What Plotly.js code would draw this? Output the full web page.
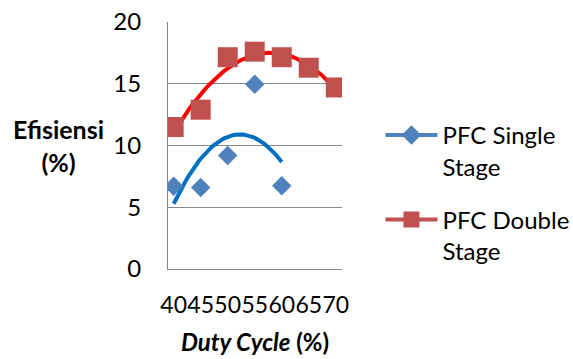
<!DOCTYPE html>
<html>
<head>
<meta charset="utf-8">
<script src="https://cdn.plot.ly/plotly-3.0.1.min.js"></script>
<style>html,body{margin:0;padding:0;background:#fff;}#chart{width:573px;height:359px;}</style>
</head>
<body>
<div id="chart"></div>
<script>
// Data
const dutyCycle = [40, 45, 50, 55, 60, 65, 70];
const tickLabels = ["40", "45", "50", "55", "60", "65", "70"];
const singleX = [40, 45, 50, 55, 60];
const singleY = [6.7, 6.6, 9.2, 14.95, 6.75];
const doubleX = [40, 45, 50, 55, 60, 65, 70];
const doubleY = [11.5, 12.9, 17.15, 17.6, 17.15, 16.3, 14.7];

// Excel-style 2nd order polynomial trendline (least squares fit of the data)
function polyfit2(xs, ys) {
  let n = xs.length, s = [0,0,0,0,0], t = [0,0,0];
  for (let i = 0; i < n; i++) {
    let p = 1;
    for (let k = 0; k < 5; k++) { s[k] += p; if (k < 3) t[k] += p * ys[i]; p *= xs[i]; }
  }
  const A = [[s[0], s[1], s[2], t[0]], [s[1], s[2], s[3], t[1]], [s[2], s[3], s[4], t[2]]];
  for (let c = 0; c < 3; c++) {
    for (let r = c + 1; r < 3; r++) {
      const f = A[r][c] / A[c][c];
      for (let k = c; k < 4; k++) A[r][k] -= f * A[c][k];
    }
  }
  const b = [0,0,0];
  for (let r = 2; r >= 0; r--) {
    let v = A[r][3];
    for (let k = r + 1; k < 3; k++) v -= A[r][k] * b[k];
    b[r] = v / A[r][r];
  }
  return b;
}
function trend(xs, ys) {
  const b = polyfit2(xs, ys);
  const x0 = Math.min(...xs), x1 = Math.max(...xs), n = 60;
  const tx = [], ty = [];
  for (let i = 0; i <= n; i++) { const x = x0 + (x1 - x0) * i / n; tx.push(x); ty.push(b[0] + b[1]*x + b[2]*x*x); }
  return {x: tx, y: ty};
}
// markers only, but with a line in the legend: separate points with gaps
function gapped(arr) { const out = []; arr.forEach((v, i) => { if (i) out.push(null); out.push(v); }); return out; }

const FONT = "Lato, Carlito, Calibri, sans-serif";
const tS = trend(singleX, singleY), tD = trend(doubleX, doubleY);

const traces = [
  {x: tS.x, y: tS.y, mode: "lines", line: {color: "#0070C0", width: 4}, showlegend: false, hoverinfo: "skip"},
  {x: tD.x, y: tD.y, mode: "lines", line: {color: "#FF0000", width: 4}, showlegend: false, hoverinfo: "skip"},
  {x: gapped(singleX), y: gapped(singleY), mode: "lines+markers", connectgaps: false, name: "PFC Single<br>Stage",
   legendgroup: "a", line: {color: "#4F81BD", width: 4}, marker: {symbol: "diamond", size: 15, color: "#4F81BD"}},
  {x: gapped(doubleX), y: gapped(doubleY), mode: "lines+markers", connectgaps: false, name: "PFC Double<br>Stage",
   legendgroup: "b", line: {color: "#C0504D", width: 4}, marker: {symbol: "square", size: 20, color: "#C0504D"}}
];

const layout = {
  width: 573, height: 359,
  margin: {l: 168, r: 231, t: 22, b: 90},
  paper_bgcolor: "#fff", plot_bgcolor: "#fff",
  font: {family: FONT, size: 23, color: "#000"},
  xaxis: {
    range: [38.95, 71.15], tickvals: dutyCycle, ticktext: tickLabels, tickangle: 0,
    showgrid: false, zeroline: false, showline: true, linecolor: "#868686", linewidth: 1, ticks: "", ticklabelstandoff: 15,
    tickfont: {family: FONT, size: 23, color: "#000"},
    title: {text: "<b><i>Duty Cycle</i> (%)</b>", font: {family: FONT, size: 24, color: "#000"}, standoff: 17}
  },
  yaxis: {
    range: [0, 20], dtick: 5, showgrid: true, gridcolor: "#868686", gridwidth: 1,
    zeroline: false, showline: true, linecolor: "#868686", linewidth: 1, ticks: "", ticklabelstandoff: 21,
    tickfont: {family: FONT, size: 24, color: "#000"}
  },
  legend: {
    xref: "container", yref: "container",
    x: 0.664, xanchor: "left", y: 0.4624, yanchor: "middle", traceorder: "grouped", tracegroupgap: 19,
    itemwidth: 52, valign: "top", font: {family: FONT, size: 24, color: "#000"}, bgcolor: "rgba(0,0,0,0)"
  },
  annotations: [{
    xref: "paper", yref: "paper", x: -0.63, y: 0.5, xanchor: "center", yanchor: "middle", showarrow: false,
    text: "<b>Efisiensi<br>(%)</b>", font: {family: FONT, size: 25, color: "#000"}
  }]
};

Plotly.newPlot("chart", traces, layout, {displayModeBar: false, staticPlot: true});
</script>
</body>
</html>
